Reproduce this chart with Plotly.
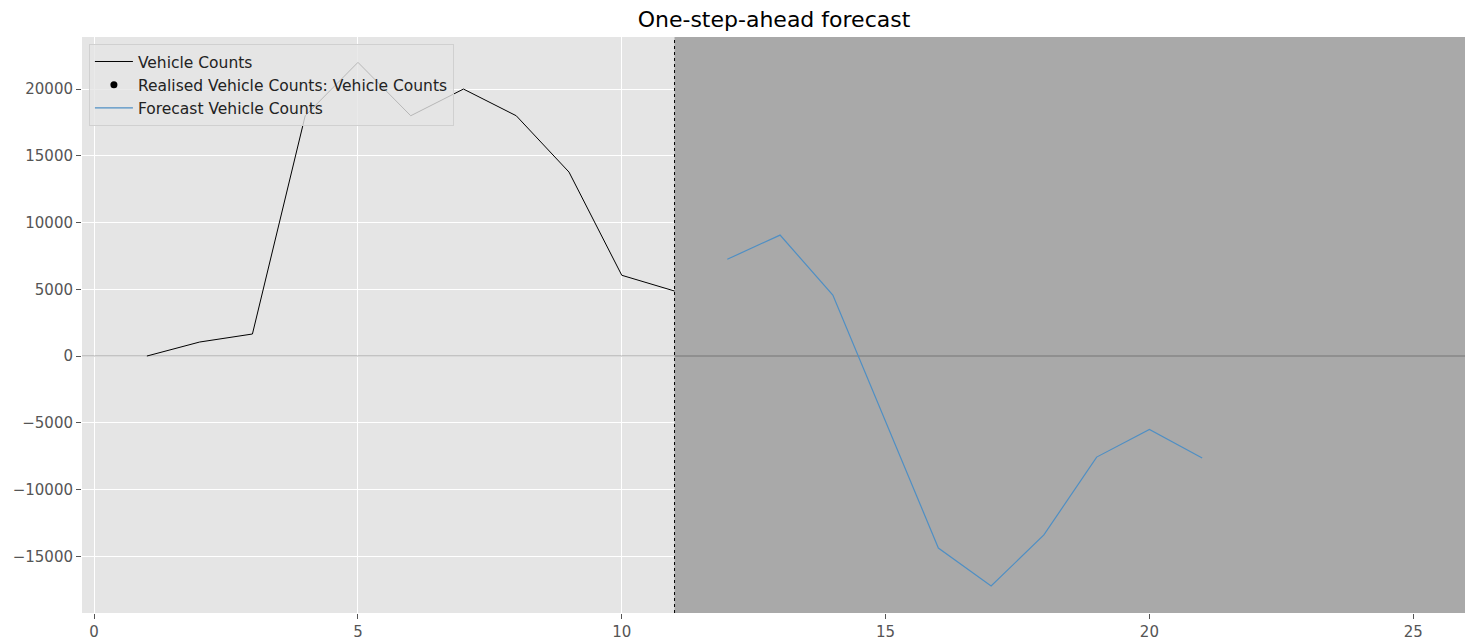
import plotly.graph_objects as go

# Observed series
obs_x = [1, 2, 3, 4, 5, 6, 7, 8, 9, 10, 11]
obs_y = [0, 1050, 1650, 18000, 22000, 18000, 20000, 18000, 13780, 6050, 4870]

# One-step-ahead forecast
fc_x = [12, 13, 14, 15, 16, 17, 18, 19, 20, 21]
fc_y = [7250, 9060, 4570, -4900, -14380, -17230, -13400, -7570, -5500, -7640]

forecast_start = 11
x_range = [-0.23, 26.0]
y_range = [-19250, 23900]
x_ticks = [0, 5, 10, 15, 20, 25]
y_ticks = [-15000, -10000, -5000, 0, 5000, 10000, 15000, 20000]

fig = go.Figure()

# shaded forecast region (drawn as a trace so it covers the grid)
fig.add_trace(go.Scatter(
    x=[forecast_start, x_range[1], x_range[1], forecast_start, forecast_start],
    y=[y_range[0], y_range[0], y_range[1], y_range[1], y_range[0]],
    mode="lines", fill="toself", fillcolor="#a9a9a9", line=dict(width=0),
    showlegend=False, hoverinfo="skip"))
# zero line
fig.add_trace(go.Scatter(x=x_range, y=[0, 0], mode="lines",
                         line=dict(color="rgba(0,0,0,0.2)", width=1.5),
                         showlegend=False, hoverinfo="skip"))

fig.add_trace(go.Scatter(x=obs_x, y=obs_y, mode="lines", name="Vehicle Counts",
                         line=dict(color="black", width=1)))
fig.add_trace(go.Scatter(x=[None], y=[None], mode="markers",
                         name="Realised Vehicle Counts: Vehicle Counts",
                         marker=dict(color="black", size=7)))
fig.add_trace(go.Scatter(x=fc_x, y=fc_y, mode="lines", name="Forecast Vehicle Counts",
                         line=dict(color="#4f8fc4", width=1.2)))

# vertical dotted line at forecast start
fig.add_shape(type="line", xref="x", yref="paper", x0=forecast_start, x1=forecast_start,
              y0=0, y1=1, line=dict(color="black", width=1, dash="dot"), layer="above")

fig.update_layout(
    width=1473, height=642,
    margin=dict(l=74, r=15, t=29, b=37, autoexpand=False),
    paper_bgcolor="white",
    plot_bgcolor="#e5e5e5",
    font=dict(family="DejaVu Sans", size=15, color="#555555"),
    title=dict(text="One-step-ahead forecast", xref="paper", x=0.5, xanchor="center",
               yref="container", y=0.982, yanchor="middle",
               font=dict(family="DejaVu Sans", size=22, color="black")),
    showlegend=True,
    legend=dict(x=0.005, y=0.988, xanchor="left", yanchor="top",
                bgcolor="rgba(229,229,229,0.8)", bordercolor="#d0d0d0", borderwidth=1,
                font=dict(family="DejaVu Sans", size=15.5, color="#222222"),
                tracegroupgap=0, itemwidth=38),
)
fig.update_xaxes(range=x_range, tickvals=x_ticks, ticks="outside", ticklen=5,
                 tickcolor="#555555", showgrid=True, gridcolor="white", gridwidth=1.2,
                 zeroline=False, showline=False, automargin=False)
fig.update_yaxes(range=y_range, tickvals=y_ticks, tickformat="d", ticks="outside",
                 ticklen=5, tickcolor="#555555", showgrid=True, gridcolor="white",
                 gridwidth=1.2, zeroline=False, showline=False, automargin=False)

fig.write_html("out.html")
